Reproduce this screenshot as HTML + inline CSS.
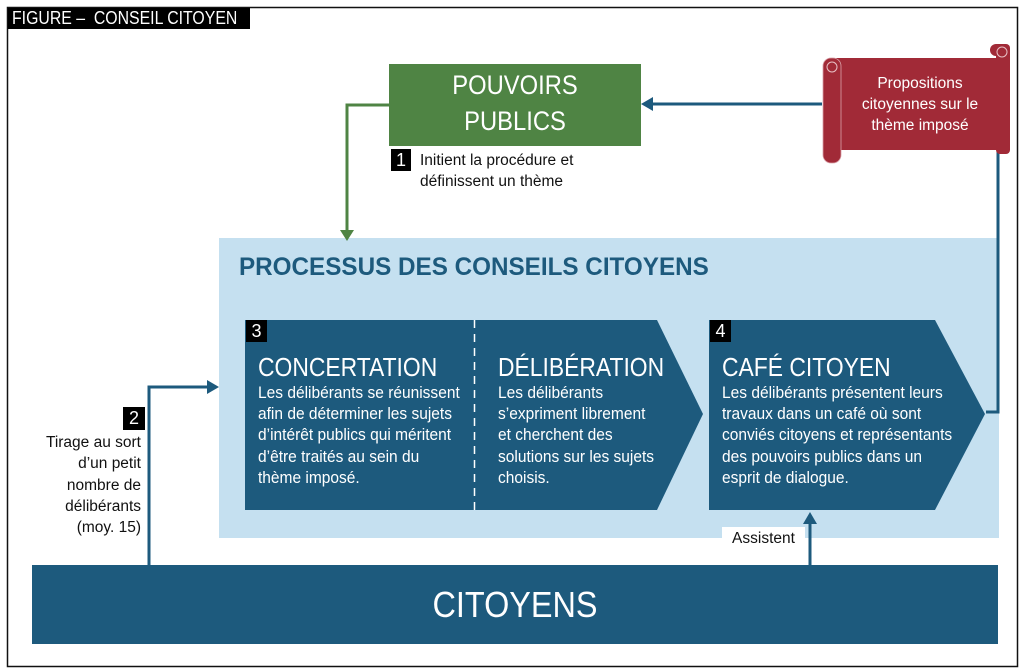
<!DOCTYPE html>
<html><head><meta charset="utf-8"><style>
body{margin:0;width:1023px;height:671px;background:#fff;position:relative;overflow:hidden;font-family:"Liberation Sans Narrow","Liberation Sans",sans-serif;}
.a{position:absolute;white-space:nowrap;}
.w{color:#fff}
.h{font-size:26px;line-height:30px;transform:scaleX(0.88);transform-origin:left top}
.b{font-size:16.5px;line-height:21.2px;transform:scaleX(0.94);transform-origin:left top}
</style></head><body>
<svg class="a" style="left:0;top:0" width="1023" height="671">
<rect x="7.5" y="7.5" width="1010" height="659" fill="none" stroke="#111" stroke-width="1.5"/>
<rect x="8" y="8" width="242" height="21" fill="#000"/>
<rect x="219" y="238" width="780" height="300" fill="#c5e0f0"/>
<rect x="389" y="64" width="252" height="82" fill="#4f8444"/>
<polyline points="389,105 347,105 347,232" fill="none" stroke="#4f8444" stroke-width="3"/>
<polygon points="340,230 354,230 347,241" fill="#4f8444"/>
<polyline points="822,104 652,104" fill="none" stroke="#1d5a7d" stroke-width="3"/>
<polygon points="653,97 653,111 641,104" fill="#1d5a7d"/>
<polyline points="998,150 998,412 986,412" fill="none" stroke="#1d5a7d" stroke-width="3"/>
<polyline points="149,566 149,387 208,387" fill="none" stroke="#1d5a7d" stroke-width="3"/>
<polygon points="207,380 207,394 219,387" fill="#1d5a7d"/>
<polyline points="810,566 810,523" fill="none" stroke="#1d5a7d" stroke-width="3"/>
<polygon points="803,524 817,524 810,512" fill="#1d5a7d"/>
<rect x="722" y="527" width="83" height="23" fill="#fff"/>
<polygon points="245,320 657,320 703,414 657,510 245,510" fill="#1d5a7d"/>
<line x1="474.5" y1="320" x2="474.5" y2="510" stroke="#fff" stroke-width="1.5" stroke-dasharray="8,6"/>
<polygon points="709,320 935,320 985,414 935,510 709,510" fill="#1d5a7d"/>
<rect x="32" y="565" width="966" height="79" fill="#1d5a7d"/>
<rect x="391" y="149" width="20" height="22" fill="#000"/>
<rect x="246" y="320" width="21" height="22" fill="#000"/>
<rect x="710" y="320" width="21" height="22" fill="#000"/>
<rect x="123" y="407" width="22" height="23" fill="#000"/>
<path d="M836,58 H1008 V150 H836 Z" fill="#a12a37"/>
<rect x="990" y="44" width="20" height="12" rx="6" fill="#a12a37"/>
<rect x="996" y="44" width="14" height="110" rx="4" fill="#a12a37"/>
<rect x="823" y="58" width="18" height="105" rx="8" fill="#a12a37" stroke="#d9a0a8" stroke-width="0.8"/>
<circle cx="832" cy="67" r="5" fill="none" stroke="#e8c0c5" stroke-width="1"/>
<circle cx="1002" cy="52" r="5" fill="none" stroke="#e8c0c5" stroke-width="1"/>
</svg>
<div class="a w" style="left:12px;top:8px;font-size:18px;line-height:21px;transform:scaleX(0.88);transform-origin:left top">FIGURE –&nbsp; CONSEIL CITOYEN</div>
<div class="a w" style="left:389px;top:67px;width:252px;text-align:center;font-size:27px;line-height:36px;transform:scaleX(0.88)">POUVOIRS<br>PUBLICS</div>
<div class="a w" style="left:391px;top:149px;width:20px;text-align:center;font-size:18px;line-height:22px">1</div>
<div class="a" style="left:420px;top:150px;font-size:15.5px;line-height:21px;color:#111">Initient la procédure et<br>définissent un thème</div>
<div class="a w" style="left:840px;top:73px;width:160px;text-align:center;font-size:15.5px;line-height:21px">Propositions<br>citoyennes sur le<br>thème imposé</div>
<div class="a" style="left:239px;top:252px;font-size:25px;line-height:30px;font-weight:bold;color:#1d5a7d;transform:scaleX(0.97);transform-origin:left top">PROCESSUS DES CONSEILS CITOYENS</div>
<div class="a w" style="left:246px;top:320px;width:21px;text-align:center;font-size:18px;line-height:22px">3</div>
<div class="a w" style="left:710px;top:320px;width:21px;text-align:center;font-size:18px;line-height:22px">4</div>
<div class="a w" style="left:123px;top:407px;width:22px;text-align:center;font-size:18px;line-height:23px">2</div>
<div class="a w h" style="left:258px;top:352px">CONCERTATION</div>
<div class="a w b" style="left:258px;top:383px">Les délibérants se réunissent<br>afin de déterminer les sujets<br>d’intérêt publics qui méritent<br>d’être traités au sein du<br>thème imposé.</div>
<div class="a w h" style="left:498px;top:352px">DÉLIBÉRATION</div>
<div class="a w b" style="left:498px;top:383px">Les délibérants<br>s’expriment librement<br>et cherchent des<br>solutions sur les sujets<br>choisis.</div>
<div class="a w h" style="left:722px;top:352px">CAFÉ CITOYEN</div>
<div class="a w b" style="left:722px;top:383px">Les délibérants présentent leurs<br>travaux dans un café où sont<br>conviés citoyens et représentants<br>des pouvoirs publics dans un<br>esprit de dialogue.</div>
<div class="a" style="left:20px;top:432px;width:121px;text-align:right;font-size:15.5px;line-height:21.3px;color:#111">Tirage au sort<br>d’un petit<br>nombre de<br>délibérants<br>(moy. 15)</div>
<div class="a" style="left:722px;top:528px;width:83px;text-align:center;font-size:15.5px;line-height:21px;color:#111">Assistent</div>
<div class="a w" style="left:32px;top:583px;width:966px;text-align:center;font-size:36px;line-height:44px;transform:scaleX(0.9)">CITOYENS</div>
</body></html>
